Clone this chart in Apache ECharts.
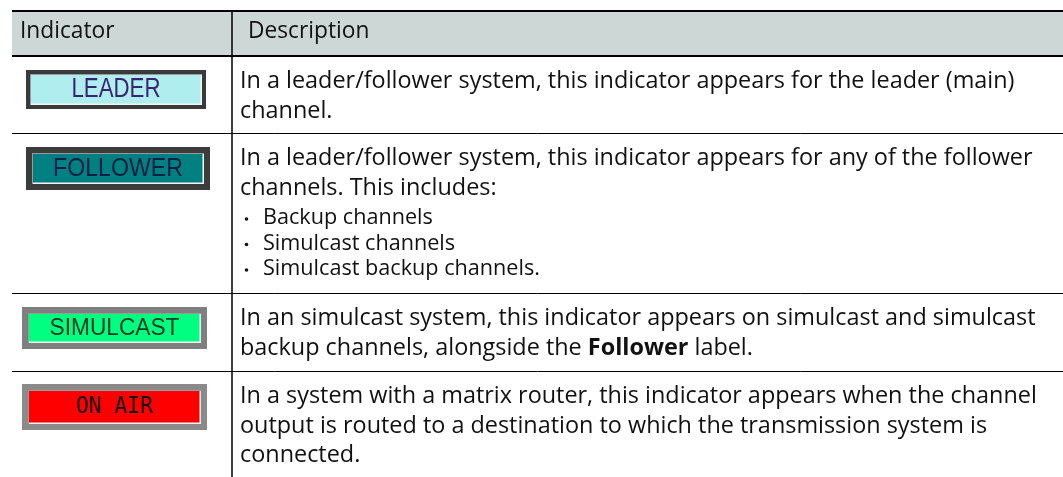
<!DOCTYPE html>
<html><head><meta charset="utf-8">
<script src="https://cdn.jsdelivr.net/npm/echarts@6/dist/echarts.min.js"></script>
<style>html,body{margin:0;padding:0;background:#fff}#c{width:1063px;height:477px}</style>
</head><body><div id="c"></div>
<script>
// ---- data ----
const headerLabels = ['Indicator', 'Description'];
const indicatorLabels = ['LEADER', 'FOLLOWER', 'SIMULCAST', 'ON AIR'];
const descriptionLines = [
  ['In a leader/follower system, this indicator appears for the leader (main)', 'channel.'],
  ['In a leader/follower system, this indicator appears for any of the follower', 'channels. This includes:'],
  ['In an simulcast system, this indicator appears on simulcast and simulcast', 'backup channels, alongside the {b|Follower} label.'],
  ['In a system with a matrix router, this indicator appears when the channel', 'output is routed to a destination to which the transmission system is', 'connected.']
];
const bulletItems = [[], ['Backup channels', 'Simulcast channels', 'Simulcast backup channels.'], [], []];

// ---- layout / style ----
const FONT = '"Open Sans", "Noto Sans", sans-serif';
const tableLeft = 12, tableRight = 1063, colX = 232;
const headerTop = 11, headerBottom = 56;
const rowTops = [56, 133, 293, 371];
const lineGap = 29.5, firstLine = 25.5, bulletGap = 25.5, bulletFirst = 30;
const badgeBoxes = [[26, 70, 180, 39], [26, 147, 184, 43], [22, 307, 185, 42], [22, 384, 185, 46]];
const badgeStyle = [
  { frame: '#3a3a3a', inset: 4, fill: '#afeeee', text: '#3a2370', font: '"Liberation Sans", Arial, sans-serif', cap: 20, w: 89 },
  { frame: '#3c3c3c', inset: 6, fill: '#008080', text: '#0a1f45', font: '"Liberation Sans", Arial, sans-serif', cap: 19, w: 130 },
  { frame: '#7f7f7f', inset: 6, fill: '#00ff80', text: '#0b3a22', font: '"Liberation Sans", Arial, sans-serif', cap: 17, w: 130 },
  { frame: '#8a8a8a', inset: 6, fill: '#ff0000', text: '#111111', font: '"DejaVu Sans Mono", monospace', cap: 17, w: 77 }
];

const mctx = document.createElement('canvas').getContext('2d');
function measure(text, size, family, weight) {
  mctx.font = (weight || 'normal') + ' ' + size + 'px ' + family;
  return mctx.measureText(text).width;
}
const bodySize = 100 * 775 / measure(descriptionLines[0][0], 100, FONT);
const bulletSize = 100 * 277 / measure(bulletItems[1][2], 100, FONT);
const headerSize = 100 * (97 + 119) / (measure(headerLabels[0], 100, FONT) + measure(headerLabels[1], 100, FONT));

const els = [];
els.push({ type: 'rect', shape: { x: tableLeft, y: headerTop, width: tableRight - tableLeft, height: headerBottom - headerTop }, style: { fill: '#ccd7d6' } });
els.push({ type: 'text', x: 20, y: 32, style: { text: headerLabels[0], font: 'normal ' + headerSize + 'px ' + FONT, fill: '#111', textVerticalAlign: 'middle' } });
els.push({ type: 'text', x: 248, y: 32, style: { text: headerLabels[1], font: 'normal ' + headerSize + 'px ' + FONT, fill: '#111', textVerticalAlign: 'middle' } });
els.push({ type: 'line', shape: { x1: tableLeft, y1: headerTop, x2: tableRight, y2: headerTop }, style: { stroke: '#000', lineWidth: 2 } });
els.push({ type: 'line', shape: { x1: tableLeft, y1: headerBottom, x2: tableRight, y2: headerBottom }, style: { stroke: '#000', lineWidth: 2 } });
rowTops.slice(1).forEach(function (y) {
  els.push({ type: 'line', shape: { x1: tableLeft, y1: y + 0.5, x2: tableRight, y2: y + 0.5 }, style: { stroke: '#000', lineWidth: 1 } });
});
els.push({ type: 'line', shape: { x1: colX, y1: headerTop, x2: colX, y2: 477 }, style: { stroke: '#000', lineWidth: 1.5 } });

indicatorLabels.forEach(function (label, i) {
  const b = badgeBoxes[i], s = badgeStyle[i];
  els.push({ type: 'rect', shape: { x: b[0], y: b[1], width: b[2], height: b[3] }, style: { fill: s.frame } });
  els.push({ type: 'rect', shape: { x: b[0] + s.inset, y: b[1] + s.inset, width: b[2] - 2 * s.inset, height: b[3] - 2 * s.inset }, style: { fill: '#9a9a9a' } });
  els.push({ type: 'rect', shape: { x: b[0] + s.inset + 1, y: b[1] + s.inset + 1, width: b[2] - 2 * s.inset - 1, height: b[3] - 2 * s.inset - 1 }, style: { fill: '#f4f4f4' } });
  els.push({ type: 'rect', shape: { x: b[0] + s.inset + 1, y: b[1] + s.inset + 1, width: b[2] - 2 * s.inset - 2.5, height: b[3] - 2 * s.inset - 2.5 }, style: { fill: s.fill } });
  const fs = s.cap / 0.716;
  const tw = measure(label, fs, s.font);
  const cx = b[0] + b[2] / 2, cy = b[1] + b[3] / 2;
  els.push({ type: 'text', x: cx, y: cy, scaleX: s.w / tw, style: { text: label, font: 'normal ' + fs + 'px ' + s.font, fill: s.text, textAlign: 'center', textVerticalAlign: 'middle' } });

  const top = rowTops[i];
  const lines = descriptionLines[i];
  lines.forEach(function (t, k) {
    els.push({ type: 'text', x: 240, y: top + firstLine + k * lineGap, style: {
      text: t, fontFamily: FONT, fontSize: bodySize, fill: '#111', textVerticalAlign: 'middle',
      rich: { b: { fontFamily: FONT, fontSize: bodySize, fontWeight: 'bold', fill: '#111' } } } });
  });
  const lastY = top + firstLine + (lines.length - 1) * lineGap;
  bulletItems[i].forEach(function (t, k) {
    const y = lastY + bulletFirst + k * bulletGap;
    els.push({ type: 'circle', shape: { cx: 246.5, cy: y + 1, r: 1.8 }, style: { fill: '#111' } });
    els.push({ type: 'text', x: 263, y: y, style: { text: t, font: 'normal ' + bulletSize + 'px ' + FONT, fill: '#111', textVerticalAlign: 'middle' } });
  });
});

const chart = echarts.init(document.getElementById('c'), null, { renderer: 'canvas' });
chart.setOption({ backgroundColor: '#ffffff', animation: false, graphic: { elements: els } });
</script></body></html>
